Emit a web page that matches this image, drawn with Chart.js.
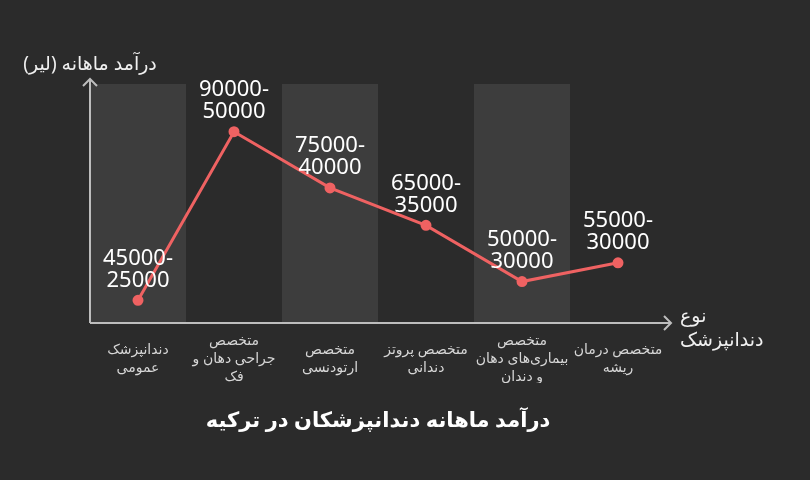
<!DOCTYPE html>
<html lang="fa">
<head>
<meta charset="utf-8">
<script src="https://cdn.jsdelivr.net/npm/chart.js@4.4.1/dist/chart.umd.min.js"></script>
<style>
  html, body { margin:0; padding:0; background:#2b2b2b; }
  #wrap { width:810px; height:480px; }
  canvas { direction: rtl; }
</style>
</head>
<body>
<div id="wrap"><canvas id="chart" width="810" height="480"></canvas></div>
<script>
// dentist types (x categories), multi-line labels
const categories = [
  ['دندانپزشک', 'عمومی'],
  ['متخصص', 'جراحی دهان و', 'فک'],
  ['متخصص', 'ارتودنسی'],
  ['متخصص پروتز', 'دندانی'],
  ['متخصص', 'بیماری‌های دهان', 'و دندان'],
  ['متخصص درمان', 'ریشه']
];
// monthly income range (lira)
const upperIncome = [45000, 90000, 75000, 65000, 50000, 55000];
const lowerIncome = [25000, 50000, 40000, 35000, 30000, 30000];
const shadedCols = [0, 2, 4];

const yTitle = 'درآمد ماهانه (لیر)';
const xTitle = ['نوع', 'دندانپزشک'];
const chartTitle = 'درآمد ماهانه دندانپزشکان در ترکیه';

const BG = '#2b2b2b';
const BAND = '#3d3d3d';
const AXIS = '#bdbdbd';
const LINE = '#ef6262';
const FONT = '"Noto Sans", "DejaVu Sans", sans-serif';

const decor = {
  id: 'decor',
  beforeDraw(c){
    const ctx = c.ctx;
    ctx.save();
    ctx.fillStyle = BG;
    ctx.fillRect(0, 0, c.width, c.height);
    ctx.restore();
  },
  beforeDatasetsDraw(c){
    const {ctx, chartArea:a} = c;
    const x = c.scales.x;
    const w = x.getPixelForValue(1) - x.getPixelForValue(0);
    ctx.save();
    ctx.fillStyle = BAND;
    shadedCols.forEach(i => {
      const cx = x.getPixelForValue(i);
      ctx.fillRect(cx - w/2, a.top, w, a.bottom - a.top);
    });
    // axes with arrows
    ctx.strokeStyle = AXIS;
    ctx.lineWidth = 2;
    ctx.beginPath();
    ctx.moveTo(a.left, a.bottom);
    ctx.lineTo(a.left, a.top - 5);
    ctx.moveTo(a.left, a.bottom);
    ctx.lineTo(a.right + 5, a.bottom);
    ctx.stroke();
    ctx.beginPath();
    ctx.moveTo(a.left - 7, a.top + 2);
    ctx.lineTo(a.left, a.top - 5);
    ctx.lineTo(a.left + 7, a.top + 2);
    ctx.moveTo(a.right - 2, a.bottom - 7);
    ctx.lineTo(a.right + 5, a.bottom);
    ctx.lineTo(a.right - 2, a.bottom + 7);
    ctx.stroke();
    ctx.restore();
  },
  afterDatasetsDraw(c){
    const {ctx, chartArea:a} = c;
    const meta = c.getDatasetMeta(0);
    ctx.save();
    // value labels
    ctx.direction = 'ltr';
    ctx.fillStyle = '#ffffff';
    ctx.font = '22px ' + FONT;
    ctx.textAlign = 'center';
    ctx.textBaseline = 'middle';
    meta.data.forEach((pt, i) => {
      ctx.fillText(upperIncome[i] + '-', pt.x, pt.y - 42);
      ctx.fillText(String(lowerIncome[i]), pt.x, pt.y - 20);
    });
    // axis titles
    ctx.direction = 'rtl';
    ctx.fillStyle = '#f0f0f0';
    ctx.font = '19px ' + FONT;
    ctx.textAlign = 'center';
    ctx.fillText(yTitle, a.left, a.top - 19);
    ctx.font = '19px ' + FONT;
    ctx.textAlign = 'left';
    ctx.fillText(xTitle[0], a.right + 14, a.bottom - 6);
    ctx.fillText(xTitle[1], a.right + 14, a.bottom + 18);
    // chart title
    ctx.fillStyle = '#ffffff';
    ctx.font = 'bold 21px ' + FONT;
    ctx.textAlign = 'center';
    ctx.fillText(chartTitle, (a.left + a.right) / 2, 421);
    ctx.restore();
  }
};

new Chart(document.getElementById('chart'), {
  type: 'line',
  data: {
    labels: categories,
    datasets: [{
      label: chartTitle,
      data: upperIncome,
      borderColor: LINE,
      backgroundColor: LINE,
      borderWidth: 3,
      pointRadius: 4,
      pointHoverRadius: 4,
      tension: 0
    }]
  },
  options: {
    responsive: false,
    animation: false,
    devicePixelRatio: 1,
    layout: { padding: { left: 90, right: 144, top: 84, bottom: 97 } },
    plugins: { legend: { display: false }, tooltip: { enabled: false }, title: { display: false } },
    scales: {
      x: {
        type: 'category',
        offset: true,
        grid: { display: false, drawTicks: false },
        border: { display: false },
        afterFit: s => { s.height = 60; },
        ticks: {
          color: '#d6d6d6',
          font: { family: FONT, size: 14, lineHeight: 1.3 },
          padding: 18,
          crossAlign: 'center',
          maxRotation: 0,
          autoSkip: false
        }
      },
      y: {
        display: false,
        min: 38940,
        max: 102730
      }
    }
  },
  plugins: [decor]
});
</script>
</body>
</html>
